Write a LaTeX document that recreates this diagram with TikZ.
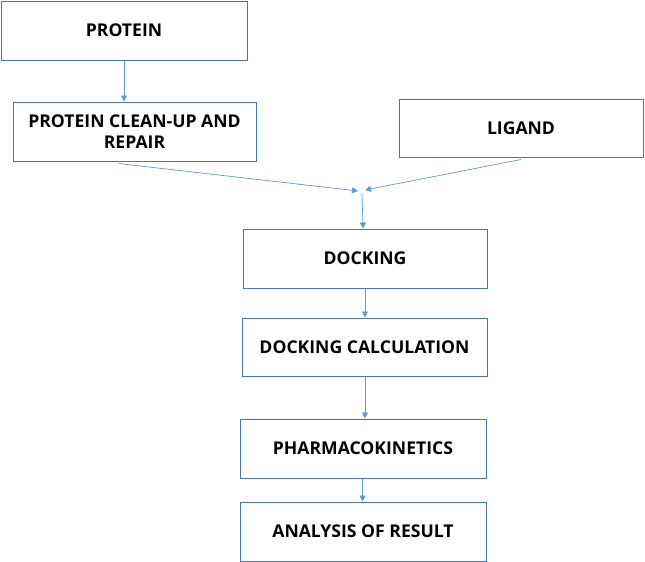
\documentclass[tikz,border=0pt]{standalone}
\usepackage{fontspec}
\setmainfont{Open Sans}
\usetikzlibrary{arrows.meta}
\definecolor{boxblue}{HTML}{4A74B4}
\definecolor{arrblue}{HTML}{5B9BD5}
\begin{document}
\begin{tikzpicture}[x=1pt,y=1pt,
  box/.style={draw=boxblue,line width=1pt,rectangle,inner sep=0pt,align=center,
    font=\fontsize{17.6}{20.5}\selectfont\bfseries,text=black},
  conn/.style={draw=arrblue,line width=0.7pt,-{Triangle[width=6pt,length=6pt]}}]
\useasboundingbox[fill=white] (0,0) rectangle (645,-562);
\node[box,minimum width=246,minimum height=59] (protein) at (124,-30.5) {PROTEIN};
\node[box,minimum width=243,minimum height=59] (cleanup) at (134.5,-131.5) {PROTEIN CLEAN-UP AND\\REPAIR};
\node[box,minimum width=244,minimum height=58] (ligand) at (521,-128) {LIGAND};
\node[box,minimum width=244,minimum height=59] (docking) at (365,-258.5) {DOCKING};
\node[box,minimum width=245,minimum height=58] (calc) at (364.5,-347) {DOCKING CALCULATION};
\node[box,minimum width=246,minimum height=59] (pharma) at (363,-448.5) {PHARMACOKINETICS};
\node[box,minimum width=246,minimum height=59] (analysis) at (363,-531.5) {ANALYSIS OF RESULT};
\coordinate (mL) at (358,-191);
\coordinate (mR) at (365,-190);
\coordinate (m) at (362,-193);
\draw[conn] (protein.south) -- (protein.south |- cleanup.north);
\draw[conn] ([xshift=-16pt,yshift=-2pt]cleanup.south) -- (mL);
\draw[conn] ([yshift=-2pt]ligand.south) -- (mR);
\draw[conn] (m) -- ([xshift=-2pt]docking.north);
\draw[conn] (docking.south) -- (docking.south |- calc.north);
\draw[conn] ([xshift=0.5pt]calc.south) -- ([xshift=0.5pt]calc.south |- pharma.north);
\draw[conn] ([xshift=-0.5pt]pharma.south) -- ([xshift=-0.5pt]pharma.south |- analysis.north);
\end{tikzpicture}
\end{document}
